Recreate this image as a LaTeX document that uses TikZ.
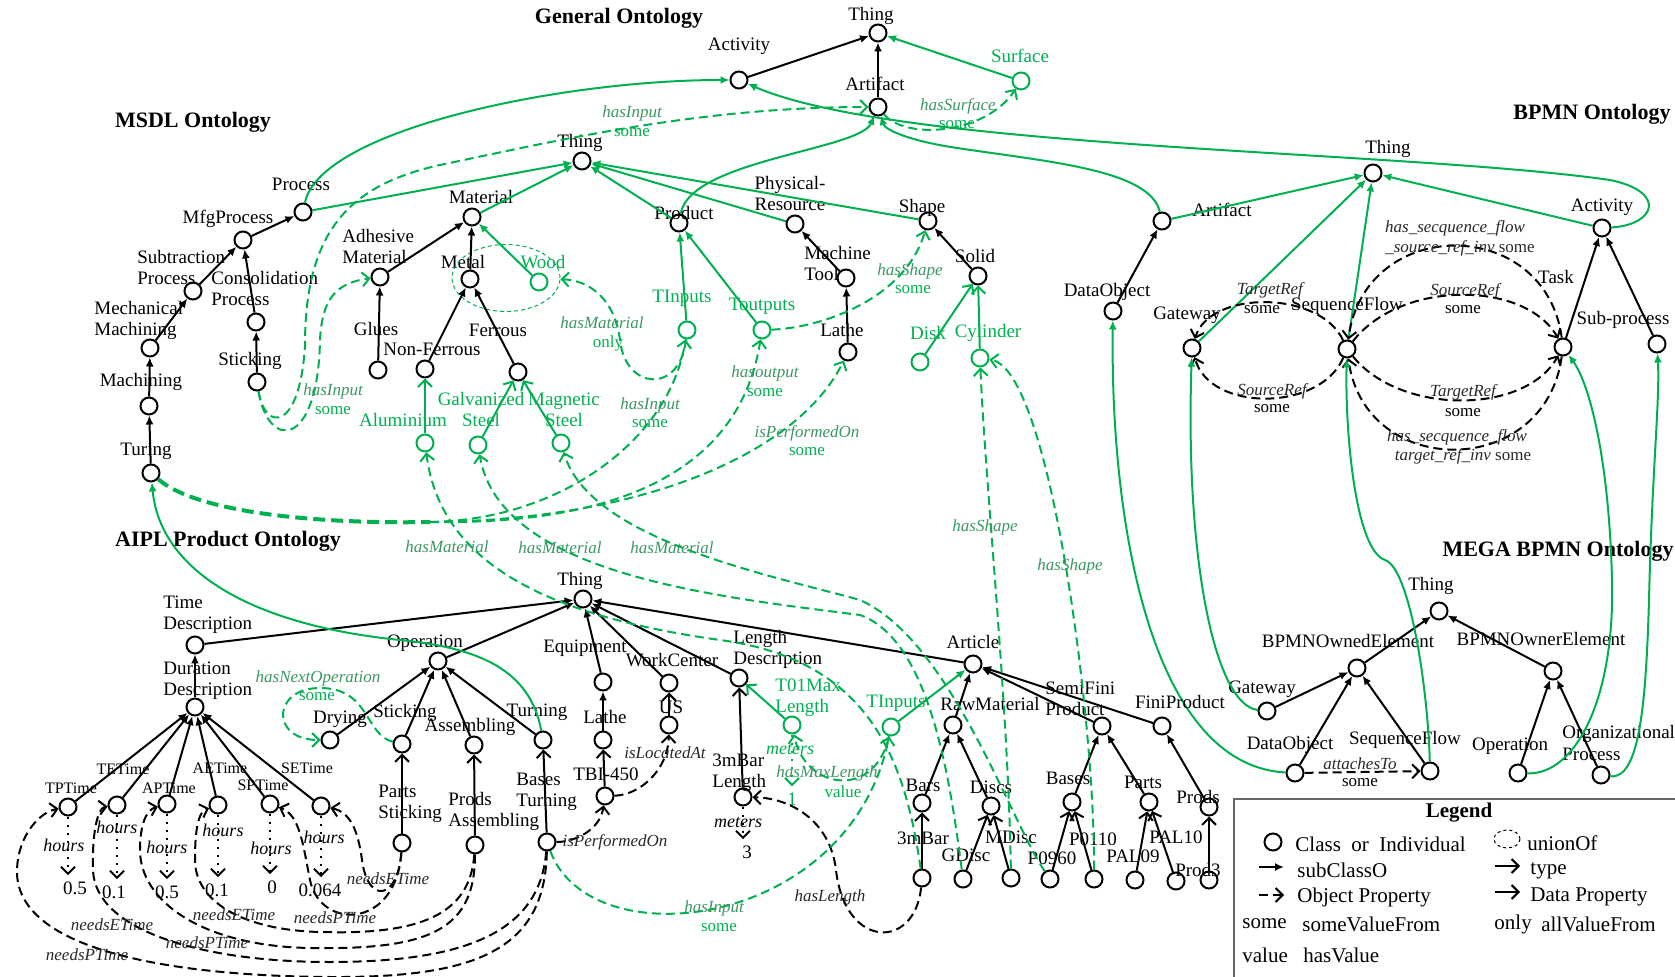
\documentclass[tikz,border=0pt]{standalone}
\usepackage{fontspec}
\setmainfont{Liberation Serif}
\definecolor{ontoGreen}{RGB}{0,176,80}
\definecolor{ontoProp}{RGB}{60,150,100}
\definecolor{ontoDark}{RGB}{40,40,40}
\usetikzlibrary{arrows.meta,shapes.geometric}

\begin{document}
\begin{tikzpicture}[x=0.5pt,y=-0.5pt,
    cls/.style={circle, draw, line width=1pt, minimum size=8.5pt, inner sep=0pt},
    gcls/.style={cls, draw=ontoGreen},
    uni/.style={ellipse, draw=ontoGreen, line width=0.5pt, dash pattern=on 2pt off 1.5pt,
                minimum width=54pt, minimum height=33.5pt, inner sep=0pt},
    lbl/.style={font=\fontsize{9.5}{10.5}\selectfont, inner sep=0pt, align=center},
    glbl/.style={lbl, text=ontoGreen},
    tlbl/.style={font=\fontsize{8}{9}\selectfont, inner sep=0pt},
    val/.style={font=\fontsize{9.5}{10.5}\selectfont, inner sep=3pt},
    hrs/.style={font=\fontsize{9}{10}\selectfont\itshape, inner sep=0pt},
    prop/.style={font=\fontsize{8.5}{9.5}\selectfont\itshape, inner sep=0pt, text=ontoDark},
    gprop/.style={prop, text=ontoProp},
    qual/.style={font=\fontsize{8.5}{9.5}\selectfont, inner sep=0pt},
    gqual/.style={qual, text=ontoGreen},
    ontitle/.style={font=\fontsize{11}{12}\selectfont\bfseries, inner sep=0pt},
    leg/.style={font=\fontsize{10.5}{12}\selectfont, inner sep=0pt},
    sub/.style={-{Latex[length=4.5pt,width=4pt]}, line width=1pt},
    gsub/.style={sub, ontoGreen},
    typ/.style={-{Straight Barb[length=3.5pt,width=7pt]}, line width=1pt},
    gtyp/.style={typ, ontoGreen},
    obj/.style={typ, dash pattern=on 4.5pt off 2.5pt},
    gobj/.style={obj, ontoGreen},
    dval/.style={typ, dash pattern=on 1pt off 3pt},
    gdval/.style={dval, ontoGreen}
  ]
  \useasboundingbox (0,0) rectangle (1675,977);

  \node[ontitle] (tGen) at (619,18) {General Ontology};
  \node[cls] (gThing) at (878,33) {};
  \node[cls] (gAct) at (739,80) {};
  \node[cls] (gArt) at (878,107) {};
  \node[gcls] (gSurf) at (1021,81) {};
  \node[lbl] (gThingL) at (871,16) {Thing};
  \node[lbl] (gActL) at (739,46) {Activity};
  \node[lbl] (gArtL) at (875,84) {Artifact};
  \node[glbl] (gSurfL) at (1020,56) {Surface};
  \node[gprop] (pSurf) at (958,106) {hasSurface};
  \node[gqual] (qSurf) at (957,125) {some};

  \draw[sub] (gAct) -- (gThing);
  \draw[sub] (gArt) -- (gThing);
  \draw[gsub] (gSurf) -- (gThing);
  \draw[gobj] (gArt) .. controls (905,140) and (985,135) .. (gSurf);

  \node[ontitle] (tMsdl) at (193,122) {MSDL Ontology};
  \node[cls] (mThing) at (582,161) {};
  \node[lbl] (mThingL) at (580,143) {Thing};
  \node[cls] (mProc) at (303,212) {};
  \node[lbl] (mProcL) at (301,184) {Process};
  \node[cls] (mMfg) at (243,240) {};
  \node[lbl] (mMfgL) at (228,219) {MfgProcess};
  \node[cls] (mSub) at (193,291) {};
  \node[lbl, anchor=west, align=left] (mSubL) at (137,268) {Subtraction\\Process};
  \node[cls] (mCons) at (256,322) {};
  \node[lbl, anchor=west, align=left] (mConsL) at (211,289) {Consolidation\\Process};
  \node[cls] (mMech) at (150,348) {};
  \node[lbl, anchor=west, align=left] (mMechL) at (94,320) {Mechanical\\Machining};
  \node[cls] (mMach) at (149,406) {};
  \node[lbl] (mMachL) at (141,382) {Machining};
  \node[cls] (mTur) at (151,473) {};
  \node[lbl] (mTurL) at (146,451) {Turing};
  \node[cls] (mStick) at (257,382) {};
  \node[lbl] (mStickL) at (250,361) {Sticking};
  \node[cls] (mMat) at (472,217) {};
  \node[lbl] (mMatL) at (481,197) {Material};
  \node[cls] (mAdh) at (380,277) {};
  \node[lbl, anchor=west, align=left] (mAdhL) at (342,247) {Adhesive\\Material};
  \node[cls] (mGlue) at (378,370) {};
  \node[lbl] (mGlueL) at (376,329) {Glues};
  \node[cls] (mMetal) at (470,279) {};
  \node[lbl] (mMetalL) at (463,262) {Metal};
  \node[gcls] (mWood) at (539,282) {};
  \node[glbl] (mWoodL) at (543,262) {Wood};
  \node[uni] (mUnion) at (506,278) {};
  \node[cls] (mNonF) at (425,369) {};
  \node[lbl] (mNonFL) at (432,349) {Non-Ferrous};
  \node[cls] (mFerr) at (518,372) {};
  \node[lbl] (mFerrL) at (498,330) {Ferrous};
  \node[gcls] (mAlu) at (425,443) {};
  \node[glbl] (mAluL) at (403,420) {Aluminium};
  \node[gcls] (mGalv) at (478,445) {};
  \node[glbl] (mGalvL) at (481,410) {Galvanized\\Steel};
  \node[gcls] (mMagn) at (561,443) {};
  \node[glbl] (mMagnL) at (564,410) {Magnetic\\Steel};
  \node[cls] (mProd) at (679,223) {};
  \node[lbl] (mProdL) at (684,213) {Product};
  \node[cls] (mPhys) at (795,224) {};
  \node[lbl] (mPhysL) at (790,194) {Physical-\\Resource};
  \node[cls] (mMT) at (846,278) {};
  \node[lbl, anchor=west, align=left] (mMTL) at (804,264) {Machine\\Tool};
  \node[cls] (mLathe) at (848,352) {};
  \node[lbl] (mLatheL) at (842,330) {Lathe};
  \node[cls] (mShape) at (928,221) {};
  \node[lbl] (mShapeL) at (922,208) {Shape};
  \node[cls] (mSolid) at (978,276) {};
  \node[lbl] (mSolidL) at (975,256) {Solid};
  \node[gcls] (mDisk) at (920,362) {};
  \node[glbl] (mDiskL) at (928,333) {Disk};
  \node[gcls] (mCyl) at (980,358) {};
  \node[glbl] (mCylL) at (988,333) {Cylinder};
  \node[gcls] (mTIn) at (687,330) {};
  \node[glbl] (mTInL) at (682,298) {TInputs};
  \node[gcls] (mTOut) at (762,330) {};
  \node[glbl] (mTOutL) at (762,306) {Toutputs};
  \coordinate (mSplit) at (430,522);

  \draw[gsub] (mProc) -- (mThing);
  \draw[gsub] (mProc) .. controls (320,130) and (560,80) .. (gAct);
  \draw[sub] (mMfg) -- (mProc);
  \draw[sub] (mSub) -- (mMfg);
  \draw[sub] (mCons) -- (mMfg);
  \draw[sub] (mMech) -- (mSub);
  \draw[sub] (mMach) -- (mMech);
  \draw[sub] (mTur) -- (mMach);
  \draw[sub] (mStick) -- (mCons);
  \draw[gsub] (mMat) -- (mThing);
  \draw[sub] (mAdh) -- (mMat);
  \draw[sub] (mMetal) -- (mMat);
  \draw[gsub] (mWood) -- (mMat);
  \draw[sub] (mGlue) -- (mAdh);
  \draw[sub] (mNonF) -- (mMetal);
  \draw[sub] (mFerr) -- (mMetal);
  \draw[gtyp] (mAlu) -- (mNonF);
  \draw[gtyp] (mGalv) -- (mFerr);
  \draw[gtyp] (mMagn) -- (mFerr);
  \draw[gsub] (mProd) -- (mThing);
  \draw[gsub] (mPhys) -- (mThing);
  \draw[gsub] (mShape) -- (mThing);
  \draw[gsub] (mTIn) -- (mProd);
  \draw[gsub] (mTOut) -- (mProd);
  \draw[sub] (mMT) -- (mPhys);
  \draw[sub] (mLathe) -- (mMT);
  \draw[sub] (mSolid) -- (mShape);
  \draw[gtyp] (mDisk) -- (mSolid);
  \draw[gtyp] (mCyl) -- (mSolid);
  \draw[gsub] (mProd) .. controls (690,160) and (860,150) .. (gArt);

  \draw[gobj] (mStick) .. controls (265,432) and (300,432) .. (305,345)
    .. controls (305,230) and (350,185) .. (440,165)
    .. controls (560,140) and (700,107) .. (gArt);
  \draw[gobj] (mStick) .. controls (268,450) and (318,450) .. (320,340)
    .. controls (322,300) and (335,283) .. (mAdh);
  \draw[gobj] (mTIn) .. controls (680,395) and (625,390) .. (620,340)
    .. controls (615,300) and (590,280) .. (mUnion);
  \draw[ontoGreen, line width=2pt, dash pattern=on 6pt off 3pt]
    (mTur) .. controls (200,515) and (330,524) .. (mSplit);
  \draw[gobj] (mSplit) .. controls (560,520) and (670,440) .. (mTIn);
  \draw[gobj] (mSplit) .. controls (620,525) and (740,470) .. (mTOut);
  \draw[gobj] (mSplit) .. controls (650,520) and (800,450) .. (mLathe);
  \draw[gobj] (mTOut) .. controls (820,328) and (905,300) .. (mShape);

  \node[gprop] (pM1) at (333,391) {hasInput};
  \node[gqual] (qM1) at (333,411) {some};
  \node[gprop] (pM2) at (632,113) {hasInput};
  \node[gqual] (qM2) at (632,133) {some};
  \node[gprop] (pM3) at (602,323) {hasMaterial};
  \node[gqual] (qM3) at (608,343) {only};
  \node[gprop] (pM4) at (650,405) {hasInput};
  \node[gqual] (qM4) at (650,424) {some};
  \node[gprop] (pM5) at (765,373) {hasoutput};
  \node[gqual] (qM5) at (765,393) {some};
  \node[gprop] (pM6) at (807,433) {isPerformedOn};
  \node[gqual] (qM6) at (807,452) {some};
  \node[gprop] (pM7) at (910,271) {hasShape};
  \node[gqual] (qM7) at (913,290) {some};

  \node[ontitle] (tBpmn) at (1592,114) {BPMN Ontology};
  \node[cls] (bThing) at (1373,173) {};
  \node[lbl] (bThingL) at (1388,149) {Thing};
  \node[cls] (bArt) at (1162,221) {};
  \node[lbl] (bArtL) at (1222,210) {Artifact};
  \node[cls] (bAct) at (1602,228) {};
  \node[lbl] (bActL) at (1602,207) {Activity};
  \node[cls] (bDO) at (1113,311) {};
  \node[lbl] (bDOL) at (1107,292) {DataObject};
  \node[cls] (bGate) at (1192,348) {};
  \node[lbl] (bGateL) at (1187,315) {Gateway};
  \node[cls] (bSeq) at (1347,349) {};
  \node[lbl] (bSeqL) at (1347,306) {SequenceFlow};
  \node[cls] (bTask) at (1563,347) {};
  \node[lbl] (bTaskL) at (1556,277) {Task};
  \node[cls] (bSub) at (1657,344) {};
  \node[lbl] (bSubL) at (1623,320) {Sub-process};

  \draw[gsub] (bArt) -- (bThing);
  \draw[gsub] (bAct) -- (bThing);
  \draw[sub] (bDO) -- (bArt);
  \draw[gsub] (bGate) -- (bThing);
  \draw[gsub] (bSeq) -- (bThing);
  \draw[sub] (bTask) -- (bAct);
  \draw[sub] (bSub) -- (bAct);
  \draw[obj] (bSeq) .. controls (1320,290) and (1210,290) .. (bGate);
  \draw[obj] (bSeq) .. controls (1320,412) and (1210,412) .. (bGate);
  \draw[obj] (bSeq) .. controls (1400,280) and (1525,280) .. (bTask);
  \draw[obj] (bSeq) .. controls (1400,415) and (1525,415) .. (bTask);
  \draw[obj] (bTask) .. controls (1545,215) and (1365,215) .. (bSeq);
  \draw[obj] (bTask) .. controls (1545,480) and (1365,480) .. (bSeq);
  \draw[gsub] (bArt) .. controls (1150,170) and (1050,162) .. (957,148)
    .. controls (910,141) and (885,130) .. (gArt);
  \draw[gsub] (bAct) .. controls (1655,225) and (1668,192) .. (1610,180)
    .. controls (1400,150) and (900,150) .. (gAct);

  \node[prop] (pB1) at (1270,290) {TargetRef};
  \node[qual] (qB1) at (1262,310) {some};
  \node[prop] (pB2) at (1272,391) {SourceRef};
  \node[qual] (qB2) at (1272,409) {some};
  \node[prop] (pB3) at (1465,291) {SourceRef};
  \node[qual] (qB3) at (1463,310) {some};
  \node[prop] (pB4) at (1463,392) {TargetRef};
  \node[qual] (qB4) at (1463,413) {some};
  \node[prop] (pB5) at (1455,228) {has\_secquence\_flow};
  \node[prop] (pB6) at (1460,248) {\_source\_ref\_inv \textup{some}};
  \node[prop] (pB7) at (1457,437) {has\_secquence\_flow};
  \node[prop] (pB8) at (1463,456) {target\_ref\_inv \textup{some}};

  \node[ontitle] (tMega) at (1558,551) {MEGA BPMN Ontology};
  \node[cls] (eThing) at (1439,611) {};
  \node[lbl] (eThingL) at (1431,586) {Thing};
  \node[cls] (eOwned) at (1357,668) {};
  \node[lbl] (eOwnedL) at (1348,641) {BPMNOwnedElement};
  \node[cls] (eOwner) at (1553,671) {};
  \node[lbl] (eOwnerL) at (1541,639) {BPMNOwnerElement};
  \node[cls] (eGate) at (1267,711) {};
  \node[lbl] (eGateL) at (1262,689) {Gateway};
  \node[cls] (eDO) at (1295,773) {};
  \node[lbl] (eDOL) at (1290,745) {DataObject};
  \node[cls] (eSeq) at (1430,771) {};
  \node[lbl] (eSeqL) at (1405,740) {SequenceFlow};
  \node[cls] (eOp) at (1518,773) {};
  \node[lbl] (eOpL) at (1510,746) {Operation};
  \node[cls] (eOrg) at (1601,775) {};
  \node[lbl, anchor=west, align=left] (eOrgL) at (1562,743) {Organizational\\Process};
  \node[prop] (pE1) at (1360,764) {attachesTo};
  \node[qual] (qE1) at (1360,783) {some};

  \draw[sub] (eOwned) -- (eThing);
  \draw[sub] (eOwner) -- (eThing);
  \draw[sub] (eGate) -- (eOwned);
  \draw[sub] (eDO) -- (eOwned);
  \draw[sub] (eSeq) -- (eOwned);
  \draw[sub] (eOp) -- (eOwner);
  \draw[sub] (eOrg) -- (eOwner);
  \draw[obj] (eDO) -- (eSeq);
  \draw[gsub] (eGate) .. controls (1215,705) and (1185,560) .. (bGate);
  \draw[gsub] (eDO) .. controls (1150,765) and (1110,520) .. (bDO);
  \draw[gsub] (eSeq) .. controls (1428,690) and (1410,568) .. (1385,560)
    .. controls (1355,550) and (1345,430) .. (bSeq);
  \draw[gsub] (eOp) .. controls (1575,775) and (1615,700) .. (1612,580)
    .. controls (1609,460) and (1590,385) .. (bTask);
  \draw[gsub] (eOrg) .. controls (1640,780) and (1646,700) .. (1649,600)
    .. controls (1652,470) and (1660,400) .. (bSub);

  \node[ontitle] (tAipl) at (228,541) {AIPL Product Ontology};
  \node[cls] (aThing) at (583,599) {};
  \node[lbl] (aThingL) at (580,581) {Thing};
  \node[cls] (aTime) at (195,645) {};
  \node[lbl, anchor=west, align=left] (aTimeL) at (163,615) {Time\\Description};
  \node[cls] (aDur) at (195,707) {};
  \node[lbl, anchor=west, align=left] (aDurL) at (163,681) {Duration\\Description};
  \node[cls] (aTP) at (68,807) {};
  \node[tlbl] (aTPL) at (71,788) {TPTime};
  \node[cls] (aTE) at (117,805) {};
  \node[tlbl] (aTEL) at (123,769) {TETime};
  \node[cls] (aAP) at (167,804) {};
  \node[tlbl] (aAPL) at (169,788) {APTime};
  \node[cls] (aAE) at (218,805) {};
  \node[tlbl] (aAEL) at (220,768) {AETime};
  \node[cls] (aSP) at (270,804) {};
  \node[tlbl] (aSPL) at (263,785) {SPTime};
  \node[cls] (aSE) at (321,806) {};
  \node[tlbl] (aSEL) at (307,768) {SETime};
  \node[val] (vTP) at (75,888) {0.5};
  \node[val] (vTE) at (114,892) {0.1};
  \node[val] (vAP) at (167,892) {0.5};
  \node[val] (vAE) at (217,890) {0.1};
  \node[val] (vSP) at (272,887) {0};
  \node[val] (vSE) at (320,890) {0.064};
  \node[hrs] (hTP) at (64,845) {hours};
  \node[hrs] (hTE) at (117,827) {hours};
  \node[hrs] (hAP) at (167,847) {hours};
  \node[hrs] (hAE) at (223,830) {hours};
  \node[hrs] (hSP) at (271,848) {hours};
  \node[hrs] (hSE) at (324,837) {hours};

  \node[cls] (aOp) at (438,661) {};
  \node[lbl] (aOpL) at (425,643) {Operation};
  \node[cls] (aDry) at (330,740) {};
  \node[lbl] (aDryL) at (340,719) {Drying};
  \node[cls] (aStick) at (402,744) {};
  \node[lbl] (aStickL) at (405,713) {Sticking};
  \node[cls] (aAsm) at (474,745) {};
  \node[lbl] (aAsmL) at (470,727) {Assembling};
  \node[cls] (aTurn) at (543,740) {};
  \node[lbl] (aTurnL) at (537,712) {Turning};
  \node[cls] (aPS) at (402,843) {};
  \node[lbl, anchor=west, align=left] (aPSL) at (378,804) {Parts\\Sticking};
  \node[cls] (aPA) at (475,845) {};
  \node[lbl, anchor=west, align=left] (aPAL) at (448,811) {Prods\\Assembling};
  \node[cls] (aBT) at (547,842) {};
  \node[lbl, anchor=west, align=left] (aBTL) at (516,792) {Bases\\Turning};

  \node[cls] (aEquip) at (603,682) {};
  \node[lbl] (aEquipL) at (585,648) {Equipment};
  \node[cls] (aLathe) at (603,740) {};
  \node[lbl] (aLatheL) at (605,717) {Lathe};
  \node[cls] (aTBI) at (605,796) {};
  \node[lbl] (aTBIL) at (606,774) {TBI-450};
  \node[cls] (aWC) at (669,683) {};
  \node[lbl] (aWCL) at (672,660) {WorkCenter};
  \node[cls] (aUS) at (669,725) {};
  \node[lbl] (aUSL) at (671,707) {US};
  \node[cls] (aLen) at (739,678) {};
  \node[lbl, anchor=west, align=left] (aLenL) at (733,649) {Length\\Description};
  \node[cls] (a3mL) at (743,797) {};
  \node[lbl, anchor=west, align=left] (a3mLL) at (712,773) {3mBar\\Length};
  \node[val] (v3mL) at (747,852) {3};
  \node[hrs] (h3mL) at (738,823) {meters};
  \node[gcls] (aT01) at (792,725) {};
  \node[glbl, anchor=west, align=left] (aT01L) at (775,698) {T01Max\\Length};
  \node[val, text=ontoGreen] (vT01) at (792,799) {1};
  \node[hrs, text=ontoGreen] (hT01) at (790,750) {meters};

  \node[cls] (aArt) at (973,664) {};
  \node[lbl] (aArtL) at (973,642) {Article};
  \node[gcls] (aTIn) at (891,727) {};
  \node[glbl] (aTInL) at (896,703) {TInputs};
  \node[cls] (aRaw) at (953,725) {};
  \node[lbl] (aRawL) at (990,704) {RawMaterial};
  \node[cls] (aSemi) at (1102,726) {};
  \node[lbl, anchor=west, align=left] (aSemiL) at (1045,699) {SemiFini\\Product};
  \node[cls] (aFini) at (1162,726) {};
  \node[lbl] (aFiniL) at (1180,702) {FiniProduct};
  \node[cls] (aBars) at (922,803) {};
  \node[lbl] (aBarsL) at (923,785) {Bars};
  \node[cls] (aDiscs) at (991,806) {};
  \node[lbl] (aDiscsL) at (991,787) {Discs};
  \node[cls] (aBases) at (1072,802) {};
  \node[lbl] (aBasesL) at (1068,778) {Bases};
  \node[cls] (aParts) at (1149,802) {};
  \node[lbl] (aPartsL) at (1143,782) {Parts};
  \node[cls] (aProds) at (1209,807) {};
  \node[lbl] (aProdsL) at (1198,797) {Prods};
  \node[cls] (a3mBar) at (922,878) {};
  \node[lbl] (a3mBarL) at (923,838) {3mBar};
  \node[cls] (aGD) at (963,879) {};
  \node[lbl] (aGDL) at (966,855) {GDisc};
  \node[cls] (aMD) at (1011,878) {};
  \node[lbl] (aMDL) at (1011,837) {MDisc};
  \node[cls] (aP0960) at (1050,879) {};
  \node[lbl] (aP0960L) at (1052,858) {P0960};
  \node[cls] (aP0110) at (1094,879) {};
  \node[lbl] (aP0110L) at (1093,839) {P0110};
  \node[cls] (aPAL09) at (1135,880) {};
  \node[lbl] (aPAL09L) at (1133,856) {PAL09};
  \node[cls] (aPAL10) at (1176,881) {};
  \node[lbl] (aPAL10L) at (1176,837) {PAL10};
  \node[cls] (aProd3) at (1209,880) {};
  \node[lbl] (aProd3L) at (1198,870) {Prod3};

  \draw[sub] (aTime) -- (aThing);
  \draw[sub] (aOp) -- (aThing);
  \draw[sub] (aEquip) -- (aThing);
  \draw[sub] (aWC) -- (aThing);
  \draw[sub] (aLen) -- (aThing);
  \draw[sub] (aArt) -- (aThing);
  \draw[sub] (aDur) -- (aTime);
  \draw[sub] (aTP) -- (aDur);
  \draw[sub] (aTE) -- (aDur);
  \draw[sub] (aAP) -- (aDur);
  \draw[sub] (aAE) -- (aDur);
  \draw[sub] (aSP) -- (aDur);
  \draw[sub] (aSE) -- (aDur);
  \draw[dval] (aTP) -- (aTP |- vTP.north);
  \draw[dval] (aTE) -- (aTE |- vTE.north);
  \draw[dval] (aAP) -- (aAP |- vAP.north);
  \draw[dval] (aAE) -- (aAE |- vAE.north);
  \draw[dval] (aSP) -- (aSP |- vSP.north);
  \draw[dval] (aSE) -- (aSE |- vSE.north);
  \draw[sub] (aDry) -- (aOp);
  \draw[sub] (aStick) -- (aOp);
  \draw[sub] (aAsm) -- (aOp);
  \draw[sub] (aTurn) -- (aOp);
  \draw[typ] (aPS) -- (aStick);
  \draw[typ] (aPA) -- (aAsm);
  \draw[typ] (aBT) -- (aTurn);
  \draw[sub] (aLathe) -- (aEquip);
  \draw[typ] (aTBI) -- (aLathe);
  \draw[typ] (aUS) -- (aWC);
  \draw[typ] (a3mL) -- (aLen);
  \draw[gtyp] (aT01) -- (aLen);
  \draw[dval] (a3mL) -- (a3mL |- v3mL.north);
  \draw[gdval] (aT01) -- (aT01 |- vT01.north);
  \draw[gsub] (aTIn) -- (aArt);
  \draw[sub] (aRaw) -- (aArt);
  \draw[sub] (aSemi) -- (aArt);
  \draw[sub] (aFini) -- (aArt);
  \draw[sub] (aBars) -- (aRaw);
  \draw[sub] (aDiscs) -- (aRaw);
  \draw[sub] (aBases) -- (aSemi);
  \draw[sub] (aParts) -- (aSemi);
  \draw[sub] (aProds) -- (aFini);
  \draw[typ] (a3mBar) -- (aBars);
  \draw[typ] (aGD) -- (aDiscs);
  \draw[typ] (aMD) -- (aDiscs);
  \draw[typ] (aP0960) -- (aBases);
  \draw[typ] (aP0110) -- (aBases);
  \draw[typ] (aPAL09) -- (aParts);
  \draw[typ] (aPAL10) -- (aParts);
  \draw[typ] (aProd3) -- (aProds);

  \draw[gsub] (aTurn) .. controls (530,670) and (480,648) .. (400,640)
    .. controls (250,625) and (160,570) .. (mTur);
  \draw[gobj] (aStick) .. controls (365,735) and (370,688) .. (320,688)
    .. controls (272,688) and (270,740) .. (aDry);
  \draw[obj] (aTBI) .. controls (640,795) and (668,770) .. (aUS);
  \draw[obj] (aBT) .. controls (575,842) and (600,830) .. (aTBI);
  \draw[obj] (a3mBar) .. controls (915,950) and (845,950) .. (836,870)
    .. controls (830,820) and (790,798) .. (a3mL);
  \draw[gobj] (aBT) .. controls (590,960) and (850,930) .. (aTIn);
  \draw[gobj] (aTIn) .. controls (875,800) and (805,790) .. (aT01);
  \draw[obj] (aPS) .. controls (398,900) and (368,905) .. (362,860)
    .. controls (358,830) and (350,812) .. (aSE);
  \draw[obj] (aPS) .. controls (396,930) and (320,930) .. (310,880)
    .. controls (303,845) and (300,815) .. (aSP);
  \draw[obj] (aPA) .. controls (470,915) and (420,935) .. (320,932)
    .. controls (240,930) and (195,900) .. (195,860)
    .. controls (195,830) and (198,812) .. (aAE);
  \draw[obj] (aPA) .. controls (475,930) and (430,950) .. (310,948)
    .. controls (200,946) and (140,900) .. (140,850)
    .. controls (140,825) and (146,810) .. (aAP);
  \draw[obj] (aBT) .. controls (540,930) and (470,962) .. (330,962)
    .. controls (200,962) and (95,930) .. (93,870)
    .. controls (92,835) and (97,808) .. (aTE);
  \draw[obj] (aBT) .. controls (545,948) and (480,978) .. (330,977)
    .. controls (170,976) and (15,950) .. (17,870)
    .. controls (18,835) and (40,812) .. (aTP);
  \draw[gobj] (a3mBar) .. controls (905,760) and (870,660) .. (720,640)
    .. controls (540,615) and (440,560) .. (mAlu);
  \draw[gobj] (aGD) .. controls (950,780) and (930,640) .. (860,615)
    .. controls (720,597) and (500,575) .. (mGalv);
  \draw[gobj] (aP0960) .. controls (1010,820) and (950,640) .. (860,600)
    .. controls (770,575) and (590,540) .. (mMagn);
  \draw[gobj] (aMD) .. controls (1008,700) and (985,480) .. (mCyl);
  \draw[gobj] (aP0110) .. controls (1095,720) and (1050,370) .. (mCyl);

  \node[gprop] (pA1) at (318,678) {hasNextOperation};
  \node[gqual] (qA1) at (317,697) {some};
  \node[prop] (pA2) at (665,753) {isLocatedAt};
  \node[prop] (pA3) at (615,842) {isPerformedOn};
  \node[gprop] (pA4) at (714,908) {hasInput};
  \node[gqual] (qA4) at (719,928) {some};
  \node[prop] (pA5) at (830,897) {hasLength};
  \node[gprop] (pA6) at (827,773) {hasMaxLength};
  \node[gqual] (qA6) at (843,792) {value};
  \node[prop] (pA7) at (388,879) {needsETime};
  \node[prop] (pA8) at (335,918) {needsPTime};
  \node[prop] (pA9) at (234,915) {needsETime};
  \node[prop] (pA10) at (207,943) {needsPTime};
  \node[prop] (pA11) at (112,925) {needsETime};
  \node[prop] (pA12) at (87,955) {needsPTime};
  \node[gprop] (pA13) at (447,547) {hasMaterial};
  \node[gprop] (pA14) at (560,548) {hasMaterial};
  \node[gprop] (pA15) at (672,548) {hasMaterial};
  \node[gprop] (pA16) at (985,527) {hasShape};
  \node[gprop] (pA17) at (1070,566) {hasShape};

  \draw[line width=0.8pt, black!60] (1234,799) rectangle (1700,1000);
  \node[leg, font=\fontsize{10.5}{12}\selectfont\bfseries] (legT) at (1459,813) {Legend};
  \node[cls] (legC) at (1273,842) {};
  \node[leg, anchor=west] (legCL) at (1295,844) {Class\ \ or\ \ Individual};
  \coordinate (legS1) at (1259,867);
  \coordinate (legS2) at (1284,867);
  \draw[sub] (legS1) -- (legS2);
  \node[leg, anchor=west] (legSL) at (1297,870) {subClassO};
  \coordinate (legO1) at (1259,895);
  \coordinate (legO2) at (1284,895);
  \draw[obj] (legO1) -- (legO2);
  \node[leg, anchor=west] (legOL) at (1297,897) {Object Property};
  \node[leg, anchor=west] (legSm) at (1242,924) {some};
  \node[leg, anchor=west] (legSmL) at (1302,924) {someValueFrom};
  \node[leg, anchor=west] (legV) at (1242,955) {value};
  \node[leg, anchor=west] (legVL) at (1303,955) {hasValue};
  \node[ellipse, draw, line width=0.5pt, dash pattern=on 1.5pt off 1.5pt,
        minimum width=13pt, minimum height=9pt, inner sep=0pt] (legU) at (1507,839) {};
  \node[leg, anchor=west] (legUL) at (1527,843) {unionOf};
  \coordinate (legT1) at (1495,866);
  \coordinate (legT2) at (1520,866);
  \draw[typ] (legT1) -- (legT2);
  \node[leg, anchor=west] (legTL) at (1530,871) {type};
  \coordinate (legD1) at (1495,892);
  \coordinate (legD2) at (1520,892);
  \draw[typ] (legD1) -- (legD2);
  \node[leg, anchor=west] (legDL) at (1530,897) {Data Property};
  \node[leg, anchor=west] (legOn) at (1494,924) {only};
  \node[leg, anchor=west] (legOnL) at (1541,924) {allValueFrom};
\end{tikzpicture}
\end{document}
